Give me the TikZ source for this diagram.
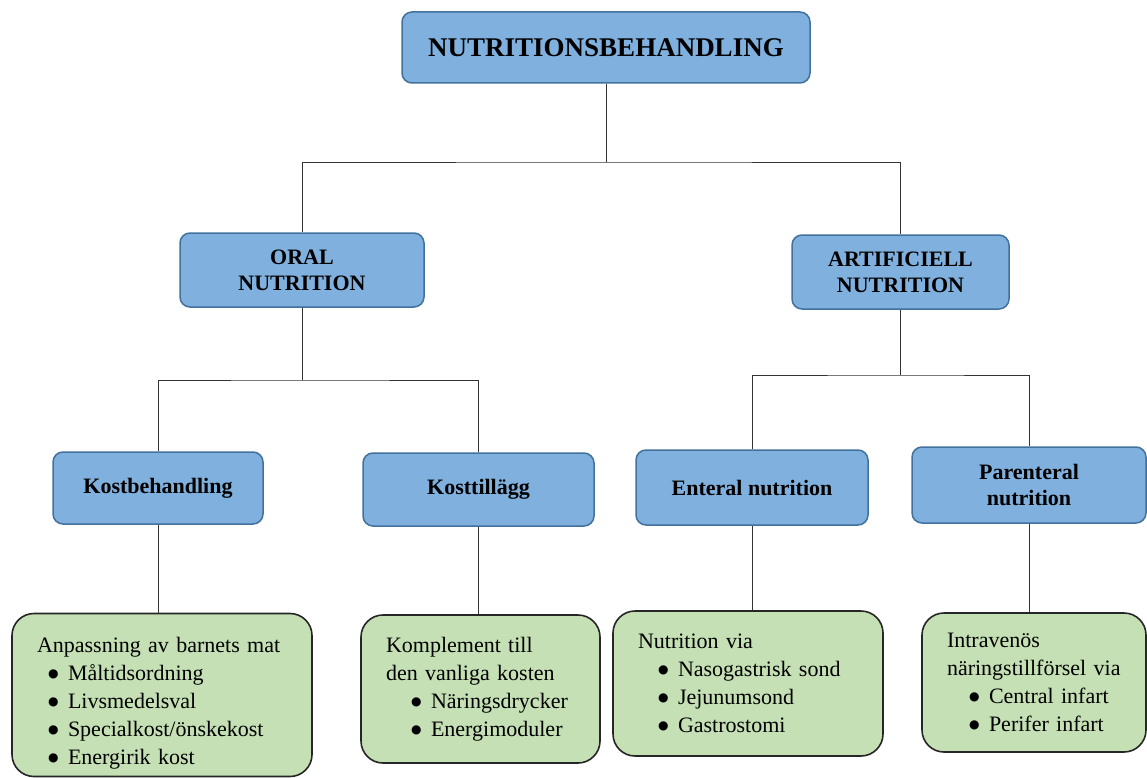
\documentclass[tikz,border=0pt]{standalone}
\usepackage{fontspec}
\setmainfont{Liberation Serif}
\newfontfamily\dotfont{DejaVu Sans}
\definecolor{boxblue}{HTML}{7FB0DE}
\definecolor{boxedge}{HTML}{41719C}
\definecolor{boxgreen}{HTML}{C5E0B4}
\tikzstyle{blue box}=[draw=boxedge, fill=boxblue, line width=1.5pt, rounded corners=10pt, align=center, font=\bfseries\fontsize{22}{26}\selectfont]
\tikzstyle{green box}=[draw=black!85, fill=boxgreen, line width=1.6pt, rounded corners=22pt, align=left, inner xsep=25pt, font=\fontsize{22}{28}\selectfont]
\tikzstyle{link}=[line width=0.8pt, black!80]
\newcommand{\itm}[2][22pt]{\hspace*{#1}\makebox[20pt][l]{\raisebox{3pt}{\dotfont\fontsize{12}{12}\selectfont ●}}#2}

\begin{document}
\begin{tikzpicture}[x=1pt, y=-1pt]
\useasboundingbox (0,0) rectangle (1147,778);
% Blue boxes
    \node[blue box, minimum width=408pt, minimum height=71pt, font=\bfseries\fontsize{27}{32}\selectfont] (top) at (606,47.5) {NUTRITIONSBEHANDLING};
    \node[blue box, minimum width=244pt, minimum height=74pt] (oral) at (302,270) {ORAL\\NUTRITION};
    \node[blue box, minimum width=217pt, minimum height=74pt] (arti) at (900.5,272) {ARTIFICIELL\\NUTRITION};
    \node[blue box, minimum width=210pt, minimum height=72pt] (kost) at (158,488) {Kostbehandling};
    \node[blue box, minimum width=231pt, minimum height=73pt] (till) at (478.5,489.5) {Kosttillägg};
    \node[blue box, minimum width=232pt, minimum height=75pt] (ent) at (752,487.5) {Enteral nutrition};
    \node[blue box, minimum width=234pt, minimum height=76pt] (par) at (1029,485) {Parenteral\\nutrition};
% Green boxes
    \node[green box, text width=250pt, minimum height=163pt] (diet) at (162,695) {\rule{0pt}{32pt}Anpassning av barnets mat\\\itm[11pt]{Måltidsordning}\\\itm[11pt]{Livsmedelsval}\\\itm[11pt]{Specialkost/önskekost}\\\itm[11pt]{Energirik kost}};
    \node[green box, text width=189pt, minimum height=148pt] (supp) at (480.5,689) {Komplement till\\den vanliga kosten\\\itm[25pt]{Näringsdrycker}\\\itm[25pt]{Energimoduler}};
    \node[green box, text width=220pt, minimum height=145pt] (tube) at (748,683.5) {Nutrition via\\\itm[20pt]{Nasogastrisk sond}\\\itm[20pt]{Jejunumsond}\\\itm[20pt]{Gastrostomi}};
    \node[green box, text width=174pt, minimum height=139pt] (iv) at (1034,682.5) {Intravenös\\näringstillförsel via\\\itm{Central infart}\\\itm{Perifer infart}};
% Lines
    \coordinate (j1) at (606,162);
    \coordinate (j2) at (302,380);
    \coordinate (j3) at (900.5,375);
    \draw[link] (top) -- (j1);
    \draw[link] (oral) |- (j1) -| (arti);
    \draw[link] (oral) -- (j2);
    \draw[link] (kost) |- (j2) -| (till);
    \draw[link] (arti) -- (j3);
    \draw[link] (ent) |- (j3) -| (par);
    \draw[link] (kost.south) -- (kost.south |- diet.north);
    \draw[link] (till.south) -- (till.south |- supp.north);
    \draw[link] (ent.south) -- (ent.south |- tube.north);
    \draw[link] (par.south) -- (par.south |- iv.north);
\end{tikzpicture}
\end{document}
